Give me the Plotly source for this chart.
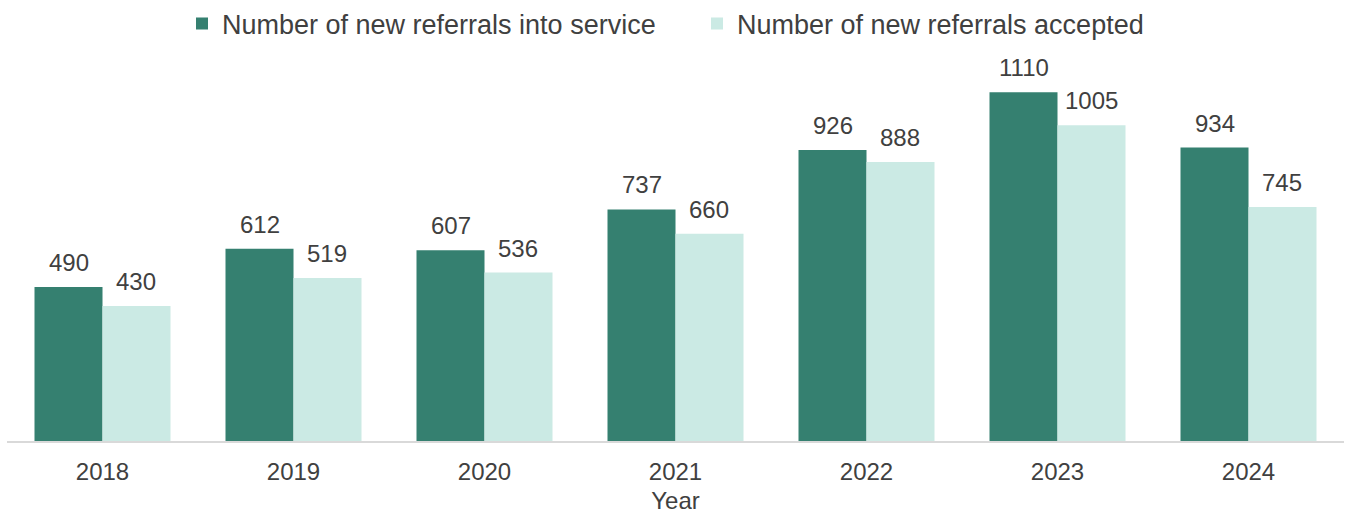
import plotly.graph_objects as go

years = ["2018", "2019", "2020", "2021", "2022", "2023", "2024"]
referrals_in = [490, 612, 607, 737, 926, 1110, 934]
referrals_accepted = [430, 519, 536, 660, 888, 1005, 745]

dark = "#358070"
light = "#CBEAE4"
text_col = "#404040"
font_family = "Liberation Sans, Arial, sans-serif"

W, H = 1349, 514
margin = dict(l=7, r=5, t=64, b=73)
bargap = 0.288

fig = go.Figure()
fig.add_trace(go.Bar(
    x=years, y=referrals_in, name="Number of new referrals into service",
    marker=dict(color=dark, line=dict(width=0)),
))
fig.add_trace(go.Bar(
    x=years, y=referrals_accepted, name="Number of new referrals accepted",
    marker=dict(color=light, line=dict(width=0)),
))

# value labels above each bar, offset to the centre of its bar in the group
plot_w = W - margin["l"] - margin["r"]
bar_w = plot_w / len(years) * (1 - bargap) / 2
for series, shift in ((referrals_in, -bar_w / 2), (referrals_accepted, bar_w / 2)):
    for i, v in enumerate(series):
        fig.add_annotation(
            x=i, y=v, xref="x", yref="y", text=str(v), showarrow=False,
            xshift=shift, yanchor="bottom", yshift=9,
            font=dict(size=24, color=text_col, family=font_family),
        )

legend_left = 182
fig.update_layout(
    width=W, height=H,
    margin=margin,
    barmode="group", bargap=bargap, bargroupgap=0,
    plot_bgcolor="white", paper_bgcolor="white",
    font=dict(family=font_family, size=24, color=text_col),
    showlegend=True,
    legend=dict(orientation="h", x=(legend_left - margin["l"]) / plot_w, xanchor="left",
                yref="container", y=1 - 24 / H, yanchor="middle",
                font=dict(size=27, color=text_col), itemwidth=30,
                entrywidth=470, traceorder="normal"),
)
fig.update_xaxes(
    type="category", range=[-0.5, len(years) - 0.5],
    showline=True, linecolor="#D9D9D9", linewidth=2, ticks="",
    tickfont=dict(size=24, color=text_col), ticklabelstandoff=8,
    title=dict(text="Year", font=dict(size=24, color=text_col), standoff=10),
    automargin=False,
)
fig.update_yaxes(range=[0, 1200], visible=False, showgrid=False)

fig.write_html("out.html")
